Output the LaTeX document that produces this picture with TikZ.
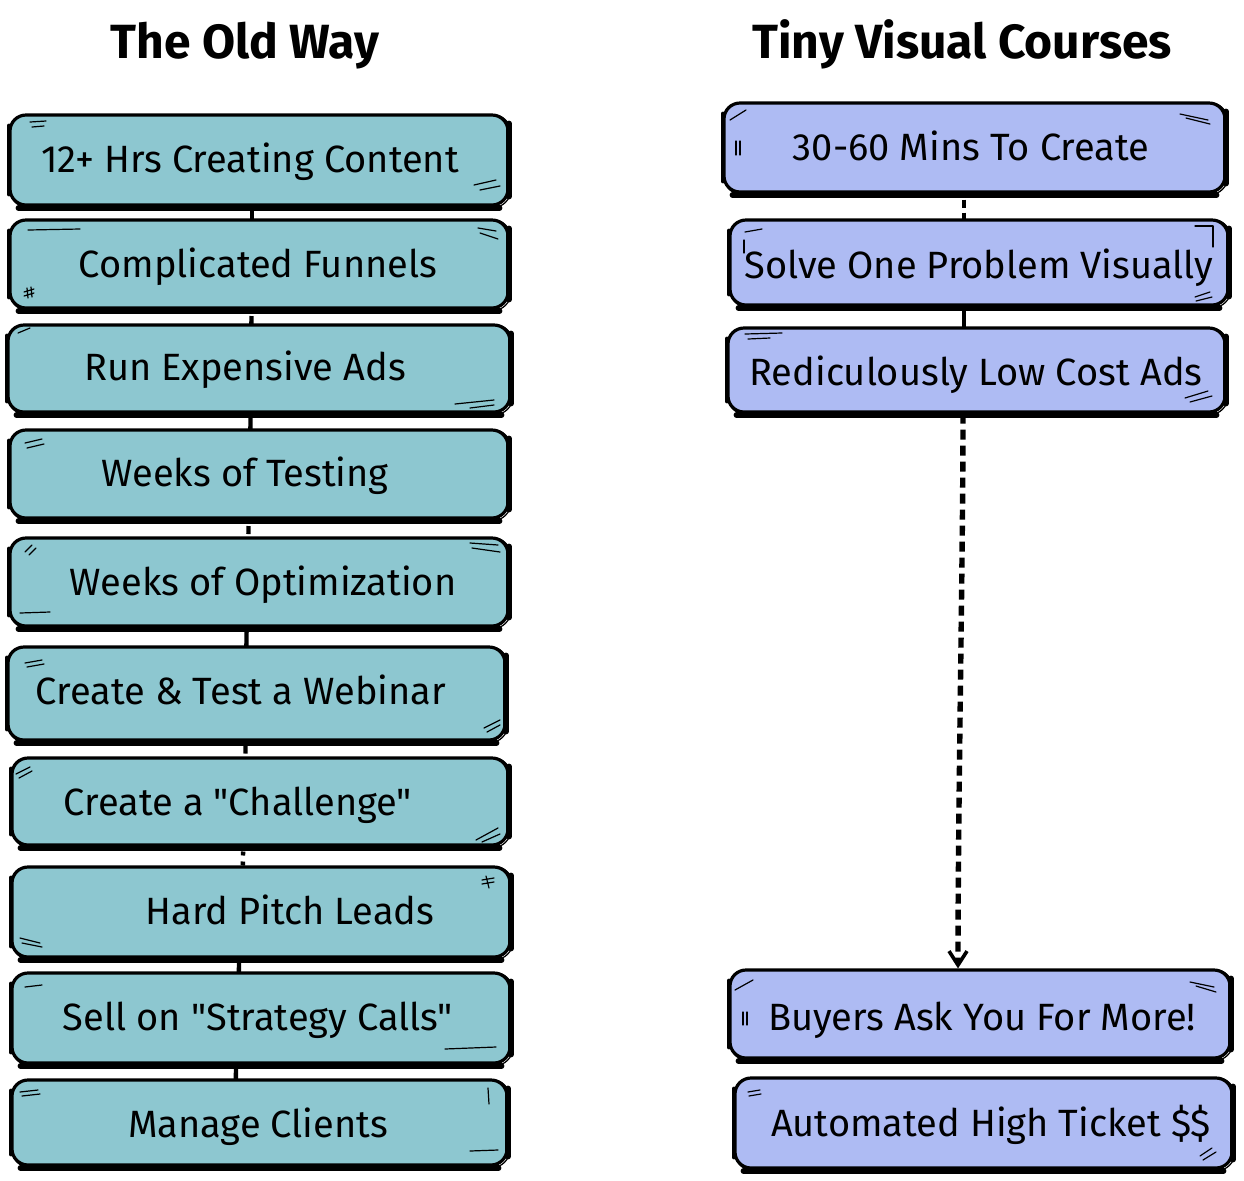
\documentclass[tikz,border=0pt]{standalone}
\usepackage{fontspec}
\setmainfont{Fira Sans}[Ligatures=TeXOff]
\usetikzlibrary{arrows.meta,backgrounds,calc}
\definecolor{oldfill}{HTML}{8DC7D0}
\definecolor{newfill}{HTML}{AEBBF3}
\tikzset{
  stepcard/.style={draw=black, line width=1.6pt, rounded corners=8pt, inner sep=0pt},
  roughline/.style={draw=black, line width=0.6pt, rounded corners=9pt},
  heavyedge/.style={line width=2.8pt, line cap=round},
  tick/.style={line width=0.6pt, line cap=round},
  cardtext/.style={anchor=base, font=\fontsize{19}{22}\selectfont, inner sep=0pt},
  headtext/.style={anchor=base, font=\fontsize{24}{28}\selectfont\bfseries, inner sep=0pt},
  link/.style={line width=2.2pt, dash pattern=on 4pt off 2.5pt},
  dotlink/.style={line width=2.2pt, dash pattern=on 2pt off 3pt},
  solidlink/.style={line width=2.2pt},
  longlink/.style={line width=2.7pt, dash pattern=on 5pt off 3pt},
}
% a hand-drawn card: name, left, top, right, bottom (px, y downwards), fill
\newcommand\card[6]{%
  \pgfmathsetmacro\cardw{(#4-#2)*0.5}%
  \pgfmathsetmacro\cardh{(#5-#3)*0.5}%
  \node[stepcard, fill=#6, minimum width=\cardw pt, minimum height=\cardh pt]
    (#1) at ({(#2+#4)/2},{(#3+#5)/2}) {};
  \draw[roughline] ([shift={(0.8pt,-0.6pt)}]#1.north west) rectangle ([shift={(0.6pt,-0.5pt)}]#1.south east);
  \draw[heavyedge] ([shift={(5pt,-0.7pt)}]#1.south west) -- ([shift={(-5pt,-0.7pt)}]#1.south east);
  \draw[heavyedge] ([shift={(-0.3pt,-5pt)}]#1.north east) -- ([shift={(-0.3pt,5pt)}]#1.south east);
  \draw[line width=1.8pt, line cap=round] ([shift={(0.3pt,-6pt)}]#1.north west) -- ([shift={(0.3pt,6pt)}]#1.south west);
}
\begin{document}
\begin{tikzpicture}[x=0.5pt, y=-0.5pt]
\useasboundingbox (0,0) rectangle (1244,1180);

% column headings
\node[headtext] (h1) at (245,58) {The Old Way};
\node[headtext] (h2) at (962,58) {Tiny Visual Courses};

% the old way
\card{l1}{10}{115}{508}{205}{oldfill}
\card{l2}{10}{220}{508}{308}{oldfill}
\card{l3}{8}{325}{510}{412}{oldfill}
\card{l4}{10}{430}{508}{518}{oldfill}
\card{l5}{10}{538}{508}{626}{oldfill}
\card{l6}{8}{647}{505}{740}{oldfill}
\card{l7}{12}{758}{508}{845}{oldfill}
\card{l8}{12}{867}{510}{957}{oldfill}
\card{l9}{12}{973}{510}{1063}{oldfill}
\card{l10}{12}{1080}{507}{1165}{oldfill}

\node[cardtext] (lt1) at (250,172) {12+ Hrs Creating Content};
\node[cardtext] (lt2) at (258,277) {Complicated Funnels};
\node[cardtext] (lt3) at (245,380) {Run Expensive Ads};
\node[cardtext] (lt4) at (245,486) {Weeks of Testing};
\node[cardtext] (lt5) at (263,595) {Weeks of Optimization};
\node[cardtext] (lt6) at (241,704) {Create \& Test a Webinar};
\node[cardtext] (lt7) at (238,815) {Create a "Challenge"};
\node[cardtext] (lt8) at (290,924) {Hard Pitch Leads};
\node[cardtext] (lt9) at (258,1030) {Sell on "Strategy Calls"};
\node[cardtext] (lt10) at (258,1137) {Manage Clients};

% tiny visual courses
\card{r1}{724}{103}{1225}{192}{newfill}
\card{r2}{730}{220}{1228}{305}{newfill}
\card{r3}{728}{328}{1225}{412}{newfill}
\card{r4}{730}{970}{1230}{1058}{newfill}
\card{r5}{735}{1078}{1232}{1168}{newfill}

\node[cardtext] (rt1) at (971,160) {30-60 Mins To Create};
\node[cardtext] (rt2) at (979,278) {Solve One Problem Visually};
\node[cardtext] (rt3) at (976,385) {Rediculously Low Cost Ads};
\node[cardtext] (rt4) at (982,1030) {Buyers Ask You For More!};
\node[cardtext] (rt5) at (991,1136) {Automated High Ticket \$\$};

% small pen marks near the card corners
\draw[tick] (30,122) -- (46,121) (32,127) -- (44,126);
\draw[tick] (474,185) -- (496,180) (480,190) -- (500,186);
\draw[tick] (28,230) -- (80,229);
\draw[tick] (478,228) -- (496,231) (480,233) -- (498,239);
\draw[tick] (24,292) -- (34,289) (24,296) -- (34,293) (27,288) -- (28,298) (31,287) -- (32,297);
\draw[tick] (18,333) -- (30,328);
\draw[tick] (455,404) -- (494,400) (470,408) -- (494,405);
\draw[tick] (25,443) -- (42,439) (27,448) -- (44,444);
\draw[tick] (25,552) -- (32,545) (29,555) -- (36,548);
\draw[tick] (470,543) -- (498,545) (472,548) -- (500,552);
\draw[tick] (20,613) -- (50,612);
\draw[tick] (25,663) -- (42,660) (27,667) -- (44,664);
\draw[tick] (484,728) -- (500,720) (487,732) -- (500,725);
\draw[tick] (16,774) -- (30,767) (19,778) -- (32,771);
\draw[tick] (476,840) -- (498,828) (482,842) -- (500,834);
\draw[tick] (482,880) -- (494,878) (482,884) -- (494,882) (486,876) -- (489,888);
\draw[tick] (20,938) -- (40,943) (22,943) -- (42,947);
\draw[tick] (25,987) -- (42,985);
\draw[tick] (445,1049) -- (496,1047);
\draw[tick] (20,1092) -- (38,1090) (22,1096) -- (40,1094);
\draw[tick] (488,1088) -- (489,1104);
\draw[tick] (470,1151) -- (498,1150);
\draw[tick] (730,120) -- (746,110);
\draw[tick] (736,141) -- (736,155) (740,141) -- (740,155);
\draw[tick] (1180,114) -- (1208,120) (1186,118) -- (1210,124);
\draw[tick] (745,232) -- (762,229);
\draw[tick] (744,240) -- (744,253);
\draw[tick] (1195,226) -- (1213,226) (1213,226) -- (1213,247);
\draw[tick] (1195,297) -- (1210,292) (1196,301) -- (1212,297);
\draw[tick] (745,334) -- (782,333) (748,339) -- (770,338);
\draw[tick] (1185,398) -- (1208,391) (1190,402) -- (1212,396);
\draw[tick] (735,990) -- (753,980);
\draw[tick] (743,1012) -- (743,1025) (747,1012) -- (747,1025);
\draw[tick] (1190,982) -- (1214,987) (1196,986) -- (1216,992);
\draw[tick] (748,1092) -- (760,1090) (749,1096) -- (761,1094);
\draw[tick] (1200,1156) -- (1212,1148) (1203,1160) -- (1216,1152);

% connectors, each running through the gap between two cards
\begin{pgfonlayer}{background}
  \draw[solidlink] (l1.center -| 252,0) -- (l2.center -| 252,0);
  \draw[link] (l2.center -| 252,0) -- (l3.center -| 251,0);
  \draw[solidlink] (l3.center -| 251,0) -- (l4.center -| 250,0);
  \draw[link] (l4.center -| 249,0) -- (l5.center -| 248,0);
  \draw[solidlink] (l5.center -| 247,0) -- (l6.center -| 246,0);
  \draw[link] (l6.center -| 246,0) -- (l7.center -| 245,0);
  \draw[dotlink] (l7.center -| 244,0) -- (l8.center -| 242,0);
  \draw[solidlink] (l8.center -| 240,0) -- (l9.center -| 238,0);
  \draw[solidlink] (l9.center -| 237,0) -- (l10.center -| 235,0);
  \draw[link] (r1.center -| 964,0) -- (r2.center -| 964,0);
  \draw[solidlink] (r2.center -| 964,0) -- (r3.center -| 964,0);
\end{pgfonlayer}
\draw[longlink, -{Straight Barb[length=7pt, width=9pt, line width=1.8pt]}]
  (r3.south -| 963,0) .. controls (963,560) and (958,800) .. (r4.north -| 958,0);
\end{tikzpicture}
\end{document}
